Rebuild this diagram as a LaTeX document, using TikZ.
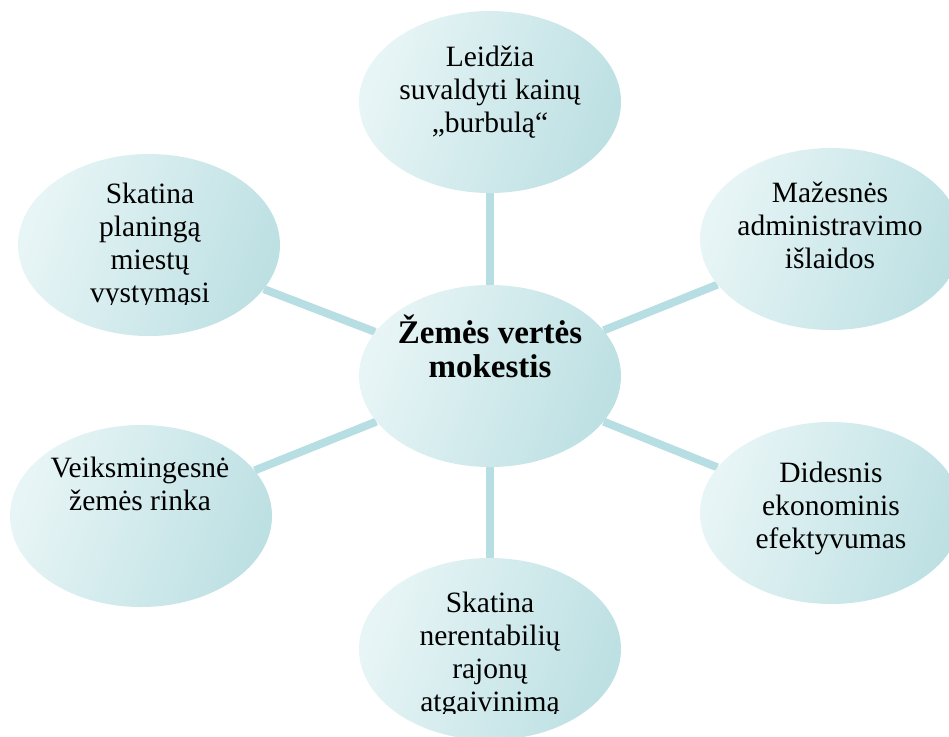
\documentclass[tikz,border=0pt]{standalone}
\usepackage{fontspec}
\setmainfont{Liberation Serif}
\usetikzlibrary{shapes.geometric,backgrounds}
\definecolor{lineC}{HTML}{B7DFE3}
\definecolor{lightC}{HTML}{E8F5F6}
\definecolor{darkC}{HTML}{BDE0E3}
\tikzset{
  bubble/.style={ellipse, minimum width=262pt, minimum height=182pt, inner sep=0pt,
    top color=lightC, bottom color=darkC, shading angle=70, draw=none},
  conn/.style={draw=lineC, line width=8pt},
  txt/.style={anchor=base, inner sep=0pt, font=\fontsize{29.5}{33}\selectfont},
  ctxt/.style={anchor=base, inner sep=0pt, font=\fontsize{33}{34.5}\selectfont\bfseries},
}
\newcommand{\lines}[1]{\begin{tabular}[t]{@{}c@{}}#1\end{tabular}}
\begin{document}
\begin{tikzpicture}[x=1pt,y=-1pt]
\useasboundingbox (0,0) rectangle (949,736);
\clip (0,0) rectangle (949,736);
% bubbles
\node[bubble] (c)  at (490,376) {};
\node[bubble] (t)  at (490,102) {};
\node[bubble] (tr) at (831,239) {};
\node[bubble] (br) at (831,513) {};
\node[bubble] (b)  at (490,649) {};
\node[bubble] (bl) at (141,516) {};
\node[bubble] (tl) at (149,245) {};
% connectors
\begin{pgfonlayer}{background}
  \draw[conn] (c) -- (t);
  \draw[conn] (c) -- (tr);
  \draw[conn] (c) -- (br);
  \draw[conn] (c) -- (b);
  \draw[conn] (c) -- (bl);
  \draw[conn] (c) -- (tl);
\end{pgfonlayer}
% texts
\node[ctxt] (ctext)  at (490,343) {\lines{Žemės vertės\\mokestis}};
\node[txt]  (ttext)  at (490,66)  {\lines{Leidžia\\suvaldyti kainų\\„burbulą“}};
\node[txt]  (trtext) at (830,202) {\lines{Mažesnės\\administravimo\\išlaidos}};
\node[txt]  (brtext) at (831,482) {\lines{Didesnis\\ekonominis\\efektyvumas}};
\node[txt]  (bltext) at (140,477) {\lines{Veiksmingesnė\\žemės rinka}};
\begin{scope}
  \clip (0,150) rectangle (300,304);
  \node[txt] (tltext) at (150,203) {\lines{Skatina\\planingą\\miestų\\vystymąsi}};
\end{scope}
\begin{scope}
  \clip (340,560) rectangle (640,713);
  \node[txt] (btext) at (490,612) {\lines{Skatina\\nerentabilių\\rajonų\\atgaivinimą}};
\end{scope}
\end{tikzpicture}
\end{document}
